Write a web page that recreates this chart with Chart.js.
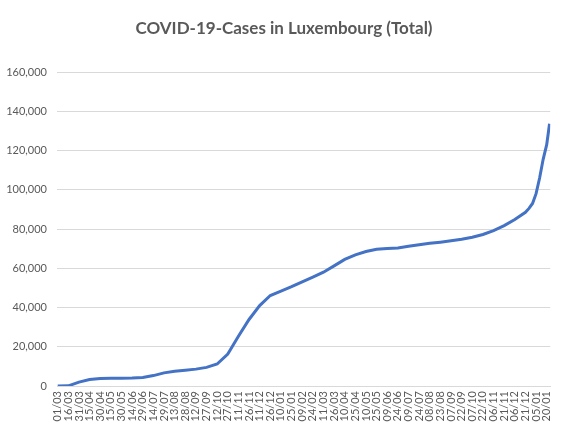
<!DOCTYPE html>
<html>
<head>
<meta charset="utf-8">
<script src="https://cdn.jsdelivr.net/npm/chart.js@4"></script>
<style>
  html, body { margin: 0; padding: 0; background: #fff; }
</style>
</head>
<body>
<canvas id="covidChart" width="565" height="432"></canvas>
<script>
// Tick labels shown on the x axis (every 15 days, starting 01/03/2020)
const tickLabels = ['01/03','16/03','31/03','15/04','30/04','15/05','30/05','14/06','29/06','14/07',
  '29/07','13/08','28/08','12/09','27/09','12/10','27/10','11/11','26/11','11/12',
  '26/12','10/01','25/01','09/02','24/02','11/03','26/03','10/04','25/04','10/05',
  '25/05','09/06','24/06','09/07','24/07','08/08','23/08','07/09','22/09','07/10',
  '22/10','06/11','21/11','06/12','21/12','05/01','20/01'];
const tickDays = [0,15,30,45,60,75,90,105,120,135,150,165,180,195,210,225,240,255,270,285,
  300,315,330,345,360,375,390,405,420,435,450,465,480,495,510,525,540,555,570,585,
  600,615,630,645,660,675,690];

// Total cases (day = days since 01/03/2020)
const days = [0,15,30,45,60,75,90,105,120,135,150,165,180,195,210,225,240,255,270,285,
  300,315,330,345,360,375,390,405,420,435,450,465,480,495,510,525,540,555,570,585,
  600,615,630,645,660,665,670,675,680,685,690,694];
const cases = [0,80,2000,3300,3800,3950,4000,4050,4300,5300,6700,7500,8000,8600,9500,11200,16300,25300,33900,41000,
  46100,48300,50600,53100,55500,58000,61200,64500,66800,68500,69700,70100,70300,71200,72000,72700,73300,74000,74800,75800,
  77200,79200,81700,84800,88500,90500,93000,98000,106000,115500,123000,133600];

const grey = '#595959';
const gridGrey = '#d9d9d9';

// centre the title on the whole picture, not on the padded box
const centreTitle = {
  id: 'centreTitle',
  afterLayout(chart) {
    const t = chart.titleBlock;
    if (t) { t.left = 3; t.right = chart.width; t.width = t.right - t.left; }
  }
};

document.addEventListener('DOMContentLoaded', () => {
  const ctx = document.getElementById('covidChart').getContext('2d');
  new Chart(ctx, {
    type: 'line',
    data: {
      datasets: [{
        data: days.map((d, i) => ({ x: d, y: cases[i] })),
        borderColor: '#4472C4',
        borderWidth: 3,
        pointRadius: 0,
        tension: 0,
        fill: false
      }]
    },
    plugins: [centreTitle],
    options: {
      responsive: false,
      animation: false,
      layout: { padding: { left: 0, right: 14, top: 0, bottom: 0 } },
      plugins: {
        legend: { display: false },
        tooltip: { enabled: false },
        title: {
          display: true,
          text: 'COVID-19-Cases in Luxembourg (Total)',
          color: grey,
          font: { family: 'Lato', size: 17, weight: 'bold' },
          padding: { top: 18, bottom: 33.6 }
        }
      },
      scales: {
        x: {
          type: 'linear',
          min: -1,
          max: 695,
          afterBuildTicks: s => { s.ticks = tickDays.map(v => ({ value: v })); },
          afterFit: s => { s.height = 46; },
          ticks: {
            autoSkip: false,
            maxRotation: 90,
            minRotation: 90,
            padding: 5,
            color: grey,
            font: { family: 'Lato', size: 11 },
            callback: (v, i) => tickLabels[i]
          },
          grid: { display: false, drawTicks: false },
          border: { color: gridGrey }
        },
        y: {
          min: 0,
          max: 160000,
          afterFit: s => { s.width = 57; },
          ticks: {
            stepSize: 20000,
            padding: 10,
            color: grey,
            font: { family: 'Lato', size: 11 },
            callback: v => v.toLocaleString('en-US')
          },
          grid: { color: gridGrey, drawTicks: false },
          border: { display: false }
        }
      }
    }
  });
});
</script>
</body>
</html>
